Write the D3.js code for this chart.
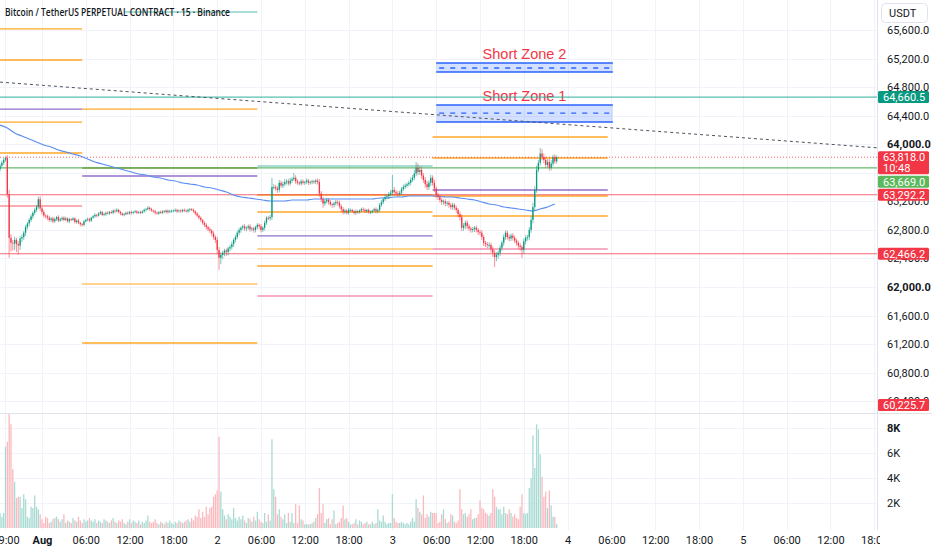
<!DOCTYPE html>
<html><head><meta charset="utf-8">
<script src="https://cdn.jsdelivr.net/npm/d3@7"></script>
<style>
body{margin:0;background:#fff;}
svg{display:block;font-family:Roboto,"Noto Sans",sans-serif;}
</style></head>
<body><svg id="c" width="932" height="550"></svg>
<script>
// ---------------- DATA ----------------
// 15-minute candles starting 2024-07-31 18:15 UTC
const closes = [
63700,63740,63780,63810,63300,62690,62620,62610,62660,62600,
62580,62680,62700,62760,62840,62890,62940,62990,63040,63080,
63120,63230,63100,63050,63000,62990,62970,62940,62960,62920,
62950,62980,62930,62950,62970,62940,62960,62920,62950,62940,
62960,62910,62930,62900,62880,62870,62920,62940,62950,62930,
62970,62990,63010,63000,63030,63050,63010,63020,63040,63030,
63050,63040,63070,63060,63080,63050,63030,63010,63020,63040,
63030,63050,63040,63050,63060,63040,63050,63040,63060,63080,
63090,63110,63090,63070,63060,63040,63030,63050,63040,63060,
63050,63070,63050,63060,63070,63070,63080,63060,63070,63060,
63080,63070,63060,63080,63090,63080,63060,63030,63000,62970,
62940,62900,62870,62840,62810,62790,62750,62700,62660,62520,
62410,62450,62480,62510,62490,62540,62560,62600,62660,62700,
62760,62800,62830,62850,62820,62830,62850,62810,62820,62800,
62840,62870,62850,62800,62830,62900,62970,62960,62980,63400,
63400,63380,63360,63460,63420,63440,63470,63480,63450,63490,
63510,63530,63480,63460,63450,63480,63460,63470,63490,63460,
63470,63480,63470,63490,63470,63310,63230,63170,63200,63220,
63190,63160,63150,63170,63190,63180,63130,63090,63050,63070,
63040,63080,63080,63060,63040,63060,63050,63070,63090,63080,
63060,63080,63050,63050,63070,63090,63060,63080,63150,63190,
63230,63260,63270,63300,63320,63360,63330,63310,63300,63320,
63370,63400,63420,63440,63460,63500,63530,63590,63670,63610,
63640,63560,63500,63440,63400,63460,63530,63460,63380,63290,
63260,63220,63190,63200,63170,63180,63150,63120,63150,63110,
63080,63020,62980,62830,62860,62900,62850,62820,62800,62810,
62830,62800,62770,62760,62700,62620,62600,62590,62590,62530,
62480,62420,62450,62480,62550,62620,62700,62760,62700,62680,
62720,62690,62650,62620,62580,62560,62520,62640,62690,62700,
62800,62940,63120,63360,63640,63740,63870,63820,63780,63710,
63750,63670,63730,63820,63760,63818
];
const firstOpen = 63650;
const wickUp = [
20,30,25,20,40,60,50,40,45,30, 40,30,35,25,30,20,25,30,20,25,
30,35,40,25,30,20,25,30,20,25, 20,15,25,20,15,20,25,15,20,15,
20,15,20,25,15,20,20,15,25,20, 15,20,25,15,20,25,15,20,15,20,
15,20,15,20,25,15,20,15,20,15, 20,15,20,15,20,15,15,20,15,20,
15,25,15,20,15,20,15,15,20,15, 20,15,15,20,15,15,20,15,15,20,
15,20,15,20,15,15,20,15,20,15, 20,15,20,25,20,25,20,30,25,40,
40,35,30,25,30,25,30,35,25,30, 25,30,20,25,30,20,25,30,20,25,
20,25,20,30,25,30,20,25,30,127, 40,30,35,40,30,35,40,30,35,40,
30,67,35,30,25,30,25,20,30,25, 20,25,20,25,30,40,35,30,25,30,
25,30,20,25,30,25,30,25,30,25, 20,25,20,15,20,25,20,15,20,25,
20,15,20,25,15,20,25,20,25,30, 25,30,25,30,35,210,40,30,35,30,
30,35,30,25,30,35,40,50,80,60, 50,40,35,40,45,35,40,35,40,30,
30,25,30,25,30,25,30,25,30,25, 30,25,35,40,35,30,35,30,25,30,
25,30,25,30,35,30,25,30,35,30, 40,35,40,30,35,30,40,35,30,35,
30,35,30,25,30,35,30,40,35,30, 40,50,60,50,60,40,77,60,50,45,
40,50,45,30,40,25
];
const wickDn = [
30,25,30,25,50,280,120,100,90,110, 130,60,50,40,45,35,40,30,35,30,
30,25,35,30,25,30,35,25,30,25, 20,25,20,15,25,20,15,20,25,20,
15,20,25,20,30,25,20,15,20,25, 20,15,20,25,15,20,15,20,25,15,
20,15,20,25,15,20,25,15,20,15, 20,15,25,20,15,20,15,20,15,20,
25,15,20,15,20,25,15,20,15,20, 15,20,25,15,20,15,20,25,15,20,
15,20,15,20,25,15,20,25,20,25, 30,25,30,35,30,35,40,35,45,60,
170,90,60,50,55,45,40,35,40,35, 30,35,40,30,35,40,30,35,30,40,
35,30,40,35,30,35,30,25,30,40, 35,30,40,35,30,35,30,35,30,25,
30,25,35,30,25,30,25,30,25,30, 25,30,25,30,35,45,40,60,35,30,
35,30,40,35,30,35,30,40,35,30, 25,30,25,20,25,30,25,20,25,30,
25,20,25,30,20,25,30,25,30,25, 30,25,30,35,30,40,35,30,35,30,
30,25,30,25,30,35,30,35,40,45, 40,45,40,50,45,40,45,40,50,45,
40,35,40,35,40,35,40,35,40,35, 40,45,50,45,40,45,40,35,40,35,
40,35,40,35,40,45,40,45,40,45, 60,140,60,50,45,40,45,40,35,40,
35,40,35,40,45,50,113,50,45,40, 45,40,50,45,40,35,40,45,50,40,
35,40,35,40,35,30
];
// volume in thousands
const volumesK = [
1.2,0.9,1.2,6.5,6.9,9.3,8.3,4.7,3.7,2.4, 2.5,2.5,1.6,2.7,2.3,0.9,0.8,1.7,1.6,2.6,
1.7,1.5,1.1,0.7,0.4,0.9,0.8,0.4,0.5,0.7, 0.8,0.9,0.7,0.5,0.7,1.1,0.4,0.6,0.5,0.4,
0.8,0.6,0.5,0.9,0.6,0.4,0.7,0.5,0.6,0.8, 0.6,0.5,0.7,0.4,0.6,0.5,0.4,0.7,0.6,0.5,
0.4,0.6,0.8,0.5,0.4,0.6,0.5,0.7,0.4,0.3, 0.5,0.7,0.4,0.6,0.5,0.4,0.6,0.3,0.5,0.4,
0.6,1.0,0.5,0.4,0.5,0.7,0.4,0.3,0.5,0.4, 0.3,0.5,0.4,0.6,0.4,0.3,0.5,0.4,0.6,0.5,
0.4,0.5,0.6,0.7,0.5,0.8,0.6,1.0,0.9,1.5, 0.8,1.3,0.9,1.7,1.1,1.6,1.7,2.5,2.7,3.0,
7.3,2.9,1.5,1.0,0.7,1.1,0.9,0.7,1.6,0.8, 0.6,0.9,0.7,1.0,0.6,0.4,0.8,0.7,0.5,0.9,
0.6,1.3,0.7,0.5,0.4,1.2,0.5,1.1,0.6,7.1, 3.1,2.5,1.1,1.5,0.9,0.7,1.1,0.4,1.2,0.5,
1.2,0.4,1.9,0.4,1.8,0.7,0.6,0.3,0.3,0.3, 0.3,0.4,0.5,0.8,1.1,3.2,1.2,1.9,0.4,0.7,
0.8,0.3,0.7,1.4,0.3,0.4,0.5,0.8,1.8,0.7, 0.8,0.5,0.3,0.3,0.4,0.7,0.3,0.6,0.5,0.3,
0.4,0.5,0.3,0.3,0.5,0.3,0.4,1.5,0.6,0.5, 1.0,0.5,0.3,0.4,0.4,2.7,0.8,0.5,0.4,0.4,
0.5,0.4,0.3,0.4,0.3,0.5,0.8,0.5,2.3,1.6, 1.3,1.1,2.6,0.8,1.1,0.9,1.3,1.2,1.2,1.2,
0.4,0.5,1.1,1.5,0.7,0.4,0.5,1.1,1.0,0.5, 0.4,0.6,3.1,1.5,1.1,1.2,0.9,1.1,1.5,0.7,
0.8,0.8,1.1,2.2,1.6,1.5,1.2,1.1,1.0,1.2, 3.1,2.5,1.7,1.5,1.5,1.1,1.7,1.2,1.1,1.5,
1.2,0.9,1.1,0.8,0.7,1.7,2.7,1.2,1.1,1.2, 3.2,4.0,7.4,4.8,8.3,7.9,5.9,4.1,2.5,2.9,
1.6,3.0,1.8,0.9,0.9,0.3
];
// moving average, one value per hour from 2024-07-31 18:15
const maHourly = [
64269,64227,64157,64115,64073,64031,63989,63961,63919,63891,
63863,63835,63793,63751,63723,63695,63667,63639,63611,63583,
63569,63541,63527,63499,63485,63457,63443,63429,63401,63387,
63359,63331,63289,63261,63247,63233,63219,63205,63205,63205,
63219,63219,63219,63233,63233,63233,63233,63233,63233,63233,
63233,63233,63247,63247,63261,63261,63275,63275,63275,63275,
63275,63261,63261,63247,63233,63219,63191,63163,63149,63121,
63107,63093,63079,63065,63093,63121,63163
];
// horizontal levels drawn over limited time ranges (hours from Aug 1 00:00 UTC)
const segLevels = [
  {p:65615,from:-6,to:5.5,kind:"orange"},
  {p:65180,from:-6,to:5.5,kind:"orange"},
  {p:64493,from:-6,to:5.5,kind:"purple"},
  {p:64311,from:-6,to:5.5,kind:"orange"},
  {p:63877,from:-6,to:5.5,kind:"orange"},
  {p:63135,from:-6,to:5.5,kind:"red"},
  {p:65852,from:11.4,to:29.5,kind:"teal"},
  {p:64493,from:5.5,to:29.5,kind:"orange"},
  {p:63667,from:5.5,to:29.5,kind:"olive"},
  {p:63555,from:5.5,to:29.5,kind:"purple"},
  {p:62042,from:5.5,to:29.5,kind:"orangeLight"},
  {p:61216,from:5.5,to:29.5,kind:"orange"},
  {p:63695,from:29.5,to:53.5,kind:"teal"},
  {p:63289,from:29.5,to:53.5,kind:"orange"},
  {p:63051,from:29.5,to:53.5,kind:"orange"},
  {p:62715,from:29.5,to:53.5,kind:"purple"},
  {p:62533,from:29.5,to:53.5,kind:"orangeLight"},
  {p:62294,from:29.5,to:53.5,kind:"orange"},
  {p:61874,from:29.5,to:53.5,kind:"pink"},
  {p:64101,from:53.5,to:77.5,kind:"orange"},
  {p:63807,from:53.5,to:77.5,kind:"orange"},
  {p:63359,from:53.5,to:77.5,kind:"purple"},
  {p:63275,from:53.5,to:77.5,kind:"orange"},
  {p:62995,from:53.5,to:77.5,kind:"orange"},
  {p:62533,from:53.5,to:77.5,kind:"pink"}
];
const fullLevels = [
  {p:64660.5,kind:"tealFull"},
  {p:63669.0,kind:"green"},
  {p:63292.2,kind:"redFull"},
  {p:62466.2,kind:"redFull"}
];
const zones = [
  {name:"Short Zone 2",top:65138,mid:65068,bottom:65012,from:54.0,to:78.2},
  {name:"Short Zone 1",top:64549,mid:64437,bottom:64311,from:54.0,to:78.2}
];
const trendPts = [{t:-5.75,p:64870},{t:114.4,p:63950}];
const lastPrice = 63818.0;
const axisLabels = [
  {p:64660.5,text:"64,660.5",kind:"teal"},
  {p:63818.0,text:"63,818.0",kind:"red",sub:"10:48"},
  {p:63669.0,text:"63,669.0",kind:"green",shift:14},
  {p:63292.2,text:"63,292.2",kind:"red"},
  {p:62466.2,text:"62,466.2",kind:"red"},
  {p:60225.7,text:"60,225.7",kind:"red"}
];
// 63,600 sits fully under the last-price label and is not visible in the chart
const priceTicks = [60400,60800,61200,61600,62000,62400,62800,63200,64000,64400,64800,65200,65600];
const gridPrices = [60400,60800,61200,61600,62000,62400,62800,63200,63600,64000,64400,64800,65200,65600];
const boldPriceTicks = [62000,64000];
const volTicksK = [2,4,6,8];
const timeTickHours = [-5,0,6,12,18,24,30,36,42,48,54,60,66,72,78,84,90,96,102,108,114];
const timeTickLabels = ["19:00","Aug","06:00","12:00","18:00","2","06:00","12:00","18:00","3","06:00","12:00","18:00","4","06:00","12:00","18:00","5","06:00","12:00","18:00"];
const title = "Bitcoin / TetherUS PERPETUAL CONTRACT · 15 · Binance";

// ---------------- STYLES / LAYOUT ----------------
const W = 932, H = 550, plotW = 877;
const priceTop = 0, priceBot = 413, volTop = 414, volBot = 530;
const styles = {
  orange:{c:"#ff9800",o:0.85,w:1.3}, orangeLight:{c:"#ffb74d",o:0.85,w:1.6},
  purple:{c:"#7e57c2",o:0.85,w:1.3}, red:{c:"#f23645",o:0.8,w:1.2},
  pink:{c:"#f06292",o:0.7,w:1.6}, teal:{c:"#26a69a",o:0.8,w:1.2},
  olive:{c:"#8d8a2c",o:0.9,w:1.4},
  tealFull:{c:"#22ab94",o:0.75,w:1.2}, green:{c:"#4caf50",o:0.85,w:1.1},
  redFull:{c:"#f23645",o:0.75,w:1.1}
};
const labelColors = {teal:"#089981",red:"#f23645",green:"#5cb85c"};
const upC = "#089981", dnC = "#f23645";

const AUG1 = Date.UTC(2024,7,1);
const H2MS = 3600e3;
const hd = h => new Date(AUG1 + h*H2MS);
const x = d3.scaleUtc().domain([hd(-5.7534), hd(114.384)]).range([0, plotW]);
const y = d3.scaleLinear().domain([60000, 65600]).range([429.8, 30]);
const yv = d3.scaleLinear().domain([0, 8]).range([528, 428]);
const T0 = Date.UTC(2024,6,31,18,15);
const candleTime = i => new Date(T0 + i*15*60000);

const candles = closes.map((c,i)=>{
  const o = i===0 ? firstOpen : closes[i-1];
  return {t:candleTime(i), o, c, h:Math.max(o,c)+wickUp[i], l:Math.min(o,c)-wickDn[i], v:volumesK[i]};
});

const svg = d3.select("#c");
const defs = svg.append("defs");
defs.append("clipPath").attr("id","cp").append("rect").attr("x",0).attr("y",priceTop).attr("width",plotW).attr("height",priceBot-priceTop);
defs.append("clipPath").attr("id","cv").append("rect").attr("x",0).attr("y",volTop).attr("width",plotW).attr("height",volBot-volTop);
defs.append("clipPath").attr("id","ct").append("rect").attr("x",0).attr("y",volBot).attr("width",880).attr("height",H-volBot);

// gridlines
const grid = svg.append("g");
grid.selectAll(".vg").data(timeTickHours).join("line")
  .attr("x1",d=>Math.round(x(hd(d)))+0.5).attr("x2",d=>Math.round(x(hd(d)))+0.5)
  .attr("y1",0).attr("y2",volBot).attr("stroke","#f0f3fa").attr("stroke-width",1);
grid.selectAll(".hg").data(gridPrices).join("line")
  .attr("x1",0).attr("x2",plotW).attr("y1",d=>Math.round(y(d))+0.5).attr("y2",d=>Math.round(y(d))+0.5)
  .attr("stroke","#f0f3fa").attr("clip-path","url(#cp)");
grid.selectAll(".vgh").data(volTicksK).join("line")
  .attr("x1",0).attr("x2",plotW).attr("y1",d=>Math.round(yv(d))+0.5).attr("y2",d=>Math.round(yv(d))+0.5)
  .attr("stroke","#f0f3fa");

// pane borders
svg.append("line").attr("x1",0).attr("x2",W).attr("y1",priceBot+0.5).attr("y2",priceBot+0.5).attr("stroke","#e0e3eb");
svg.append("line").attr("x1",plotW+0.5).attr("x2",plotW+0.5).attr("y1",0).attr("y2",volBot).attr("stroke","#e0e3eb");

const pg = svg.append("g").attr("clip-path","url(#cp)");

// zones
const zg = pg.append("g");
zones.forEach(z=>{
  const x0 = x(hd(z.from)), x1 = x(hd(z.to));
  zg.append("rect").attr("x",x0).attr("y",y(z.top)).attr("width",x1-x0).attr("height",y(z.bottom)-y(z.top))
    .attr("fill","#2962ff").attr("fill-opacity",0.2);
  [z.top,z.bottom].forEach(p=>zg.append("line").attr("x1",x0).attr("x2",x1).attr("y1",y(p)).attr("y2",y(p))
    .attr("stroke","#2962ff").attr("stroke-width",1.5));
  zg.append("line").attr("x1",x0).attr("x2",x1).attr("y1",y(z.mid)).attr("y2",y(z.mid))
    .attr("stroke","#2962ff").attr("stroke-width",1.3).attr("stroke-dasharray","5,6").attr("stroke-dashoffset",-3);
  zg.append("text").attr("x",(x0+x1)/2).attr("y",y(z.top)-4).attr("text-anchor","middle")
    .attr("fill","#f23645").attr("font-size",14.5).attr("font-family","'Liberation Sans',Arial,sans-serif").text(z.name);
});

// segment levels
pg.selectAll(".seg").data(segLevels).join("line")
  .attr("x1",d=>x(hd(d.from))).attr("x2",d=>x(hd(d.to)))
  .attr("y1",d=>y(d.p)).attr("y2",d=>y(d.p))
  .attr("stroke",d=>styles[d.kind].c).attr("stroke-opacity",d=>styles[d.kind].o).attr("stroke-width",d=>styles[d.kind].w);

// full-width levels
pg.selectAll(".full").data(fullLevels).join("line")
  .attr("x1",0).attr("x2",plotW).attr("y1",d=>y(d.p)).attr("y2",d=>y(d.p))
  .attr("stroke",d=>styles[d.kind].c).attr("stroke-opacity",d=>styles[d.kind].o).attr("stroke-width",d=>styles[d.kind].w);

// trend line
pg.append("line").attr("x1",x(hd(trendPts[0].t))).attr("y1",y(trendPts[0].p))
  .attr("x2",x(hd(trendPts[1].t))).attr("y2",y(trendPts[1].p))
  .attr("stroke","#50535e").attr("stroke-width",1).attr("stroke-dasharray","3,3");

// current price line
pg.append("line").attr("x1",0).attr("x2",plotW).attr("y1",y(lastPrice)).attr("y2",y(lastPrice))
  .attr("stroke","#f23645").attr("stroke-opacity",0.8).attr("stroke-dasharray","1,2");

// moving average
const maLine = d3.line().x((d,k)=>x(new Date(T0 + k*H2MS))).y(d=>y(d)).curve(d3.curveMonotoneX);
pg.append("path").datum(maHourly).attr("d",maLine).attr("fill","none").attr("stroke","#5b8ef0").attr("stroke-width",1.2);

// candles
const cg = pg.append("g");
const bw = 1.3;
cg.selectAll(".wick").data(candles).join("line")
  .attr("x1",d=>x(d.t)).attr("x2",d=>x(d.t)).attr("y1",d=>y(d.h)).attr("y2",d=>y(d.l))
  .attr("stroke",d=>d.c>=d.o?upC:dnC).attr("stroke-width",0.8).attr("stroke-opacity",0.7);
cg.selectAll(".body").data(candles).join("rect")
  .attr("x",d=>x(d.t)-bw/2).attr("width",bw)
  .attr("y",d=>y(Math.max(d.o,d.c))).attr("height",d=>Math.max(0.8,Math.abs(y(d.o)-y(d.c))))
  .attr("fill",d=>d.c>=d.o?upC:dnC);

// volume
svg.append("g").attr("clip-path","url(#cv)").selectAll("rect").data(candles).join("rect")
  .attr("x",d=>x(d.t)-0.65).attr("width",1.3)
  .attr("y",d=>yv(d.v)).attr("height",d=>yv(0)-yv(d.v))
  .attr("fill",d=>d.c>=d.o?"#a8dbd3":"#fab9be");

// price axis
const pAxis = svg.append("g").attr("transform",`translate(${plotW},0)`)
  .call(d3.axisRight(y).tickValues(priceTicks).tickSize(0).tickPadding(10).tickFormat(d3.format(",.1f")));
pAxis.select(".domain").remove();
pAxis.selectAll("text").attr("font-size",11).attr("fill","#131722")
  .attr("font-family","Roboto,sans-serif")
  .attr("font-weight",d=>boldPriceTicks.includes(d)?700:400);

// volume axis
const vAxis = svg.append("g").attr("transform",`translate(${plotW},0)`)
  .call(d3.axisRight(yv).tickValues(volTicksK).tickSize(0).tickPadding(10).tickFormat(d=>d+"K"));
vAxis.select(".domain").remove();
vAxis.selectAll("text").attr("font-size",11).attr("fill","#131722").attr("font-family","Roboto,sans-serif")
  .attr("font-weight",d=>d===8?700:400);

// time axis
const tAxis = svg.append("g").attr("clip-path","url(#ct)").append("g").attr("transform",`translate(0,${volBot})`)
  .call(d3.axisBottom(x).tickValues(timeTickHours.map(hd)).tickSize(0).tickPadding(6).tickFormat((d,i)=>timeTickLabels[i]));
tAxis.select(".domain").remove();
tAxis.selectAll("text").attr("font-size",11).attr("fill","#131722").attr("font-family","Roboto,sans-serif")
  .attr("font-weight",(d,i)=>timeTickLabels[i]==="Aug"?700:400);

// colored axis labels
const lg = svg.append("g");
axisLabels.forEach(l=>{
  const cy = Math.min(y(l.p), 405) + (l.shift||0);
  const h = l.sub ? 23 : 12;
  const top = cy - 6;
  lg.append("rect").attr("x",878).attr("y",top).attr("width",51).attr("height",h).attr("rx",1.5)
    .attr("fill",labelColors[l.kind]);
  lg.append("text").attr("x",883).attr("y",top+9.8).attr("font-size",11).attr("fill","#fff")
    .attr("font-family","Roboto,sans-serif").text(l.text);
  if(l.sub) lg.append("text").attr("x",883).attr("y",top+20.5).attr("font-size",11).attr("fill","#fff")
    .attr("font-family","Roboto,sans-serif").text(l.sub);
});

// USDT box
svg.append("rect").attr("x",881.5).attr("y",3.5).attr("width",46).attr("height",19).attr("rx",4)
  .attr("fill","#fff").attr("stroke","#e0e3eb");
svg.append("text").attr("x",889).attr("y",16.5).attr("font-size",11).attr("fill","#131722")
  .attr("font-family","Roboto,sans-serif").text("USDT");

// title
svg.append("text").attr("x",5).attr("y",15.5).attr("font-size",10).attr("font-weight",600)
  .attr("textLength",225).attr("lengthAdjust","spacingAndGlyphs")
  .attr("fill","#131722").attr("font-family","'Open Sans',sans-serif").text(title);
</script></body></html>
